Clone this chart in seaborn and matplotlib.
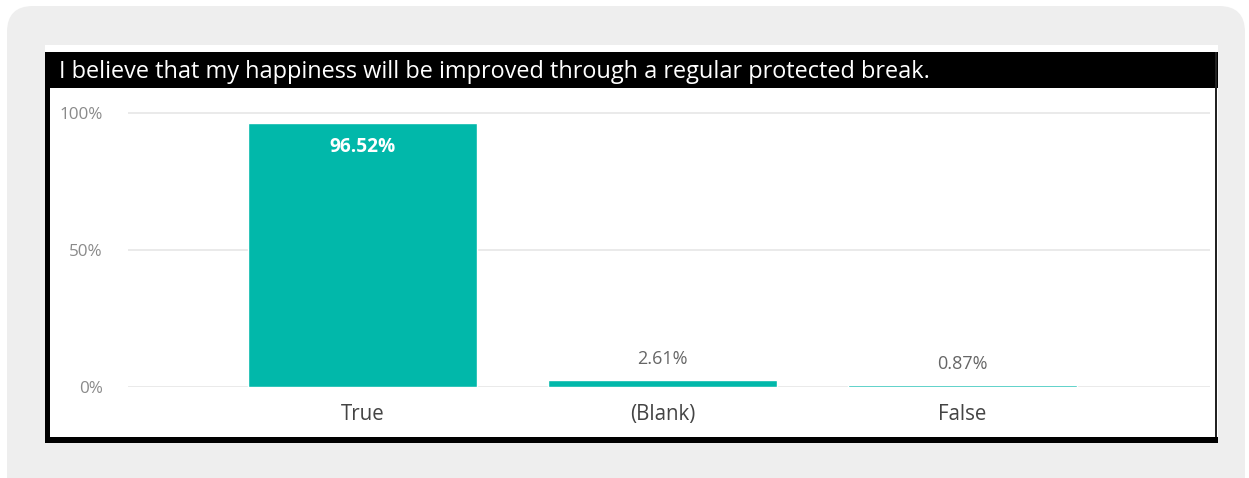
import matplotlib
matplotlib.use("Agg")
import matplotlib.pyplot as plt
from matplotlib.patches import FancyBboxPatch, Rectangle
import seaborn as sns
import pandas as pd

# Survey answers and their shares
title = "I believe that my happiness will be improved through a regular protected break."
categories = ["True", "(Blank)", "False"]
shares = [96.52, 2.61, 0.87]
y_ticks = [0, 50, 100]
y_tick_labels = ["0%", "50%", "100%"]

W, H = 1249, 478
sns.set_theme(style="white")
plt.rcParams["font.family"] = ["Open Sans", "DejaVu Sans"]

fig = plt.figure(figsize=(W / 100, H / 100), dpi=100)
fig.patch.set_facecolor("white")

# Background layer in pixel coordinates
bg = fig.add_axes([0, 0, 1, 1])
bg.set_xlim(0, W)
bg.set_ylim(H, 0)
bg.axis("off")
bg.add_patch(FancyBboxPatch((7, 6), 1238, 500, boxstyle="round,pad=0,rounding_size=26",
                            facecolor="#eeeeee", edgecolor="none"))
bg.add_patch(Rectangle((45, 45), 1173, 398, facecolor="white", edgecolor="none"))
bg.add_patch(Rectangle((45, 52), 1173, 36, facecolor="black", edgecolor="none"))
bg.add_patch(Rectangle((45, 52), 5, 391, facecolor="black", edgecolor="none"))
bg.add_patch(Rectangle((1215, 52), 2.5, 391, facecolor="#222222", edgecolor="none"))
bg.add_patch(Rectangle((45, 437), 1173, 6, facecolor="black", edgecolor="none"))
bg.text(59, 72, title, color="white", fontsize=16.9, va="center", ha="left")

# Chart area
px_per_pct = (387 - 113) / 100
top_px = 100
ax = fig.add_axes([128 / W, (H - 387) / H, (1210 - 128) / W, (387 - top_px) / H])
df = pd.DataFrame({"answer": categories, "share": shares})
sns.barplot(data=df, x="answer", y="share", color="#01B8AA", saturation=1,
            width=0.763, ax=ax)
ax.set_xlim(-0.782, 2.825)
ax.set_ylim(0, (387 - top_px) / px_per_pct)
ax.set_facecolor("none")
for s in ax.spines.values():
    s.set_visible(False)
ax.set_yticks(y_ticks)
ax.set_yticklabels(y_tick_labels)
ax.yaxis.grid(True, color="#e6e6e6", linewidth=1.2)
ax.set_axisbelow(True)
ax.tick_params(axis="y", length=0, pad=18, labelsize=12.3, labelcolor="#8a8a8a")
ax.tick_params(axis="x", length=0, pad=12, labelsize=14.8, labelcolor="#444444")
ax.set_xlabel("")
ax.set_ylabel("")

for i, v in enumerate(shares):
    label = f"{v:.2f}%"
    if v > 50:
        ax.text(i, v - 8.8, label, ha="center", va="center", color="white",
                fontsize=13.8, fontweight="bold")
    else:
        ax.text(i, v + 7.5, label, ha="center", va="center", color="#666666",
                fontsize=13)

fig.savefig("out.png", dpi=100)
